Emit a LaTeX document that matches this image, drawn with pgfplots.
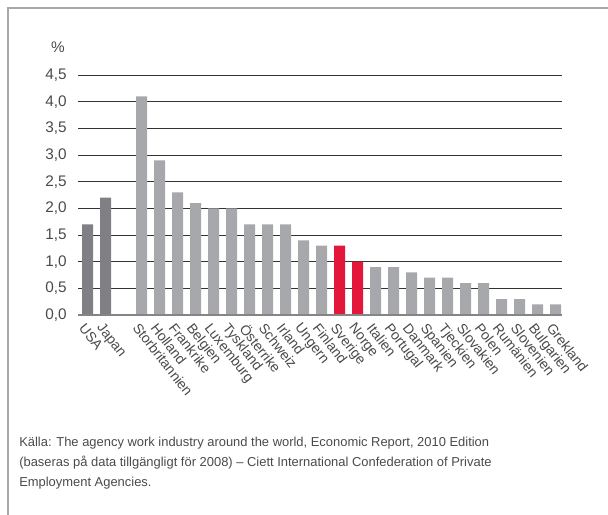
\documentclass[border=0pt]{standalone}
\usepackage{fontspec}
\setmainfont{Liberation Sans}
\usepackage{pgfplots}
\pgfplotsset{compat=1.18}
\definecolor{txt}{HTML}{4A4A4A}
\definecolor{darkbar}{HTML}{808084}
\definecolor{lightbar}{HTML}{A7A8AC}
\definecolor{redbar}{HTML}{E3173A}
\definecolor{frame}{HTML}{A8A8A8}
\begin{document}
\begin{tikzpicture}
\useasboundingbox (0,0) rectangle (456pt,386.25pt);
% frame: top and left only
\draw[frame, line width=1.1pt] (6pt,0) -- (6pt,380.25pt) -- (456pt,380.25pt);
\begin{axis}[
    at={(58.5pt,150pt)}, anchor=south west,
    scale only axis, width=363pt, height=180pt,
    xmin=-0.53, xmax=26.36, ymin=0, ymax=4.5,
    axis line style={draw=none},
    major tick length=0pt,
    ytick={0,0.5,...,4.5},
    ymajorgrids, grid style={black!80, line width=0.7pt},
    yticklabel style={font=\fontsize{11.5}{12}\selectfont, text=txt, xshift=-5pt},
    /pgf/number format/.cd, fixed, fixed zerofill, precision=1, use comma, assume math mode=true,
    /pgfplots/.cd,
    xtick={0,1,3,4,5,6,7,8,9,10,11,12,13,14,15,16,17,18,19,20,21,22,23,24,25,26},
    xticklabels={USA,Japan,Storbritannien,Holland,Frankrike,Belgien,Luxemburg,Tyskland,Österrike,Schweiz,Irland,Ungern,Finland,Sverige,Norge,Italien,Portugal,Danmark,Spanien,Tjeckien,Slovakien,Polen,Rumänien,Slovenien,Bulgarien,Grekland},
    xticklabel style={font=\fontsize{10.5}{11}\selectfont, text=txt, yshift=-5pt, xshift=-1pt, rotate=-52, anchor=north west, inner sep=0pt},
    ybar, bar width=8.25pt,
    clip=false,
]
\addplot[fill=darkbar, draw=none, bar shift=0pt] coordinates {(0,1.7) (1,2.2)};
\addplot[fill=lightbar, draw=none, bar shift=0pt] coordinates {
    (3,4.1) (4,2.9) (5,2.3) (6,2.1) (7,2.0) (8,2.0) (9,1.7) (10,1.7) (11,1.7)
    (12,1.4) (13,1.3) (16,0.9) (17,0.9) (18,0.8) (19,0.7) (20,0.7) (21,0.6)
    (22,0.6) (23,0.3) (24,0.3) (25,0.2) (26,0.2)};
\addplot[fill=redbar, draw=none, bar shift=0pt] coordinates {(14,1.3) (15,1.0)};
\draw[black!48, line width=1.8pt] (rel axis cs:0,0) -- (rel axis cs:1,0);
\end{axis}
\node[text=txt, font=\fontsize{11.5}{12}\selectfont] at (43.5pt,351pt) {\%};
\node[text=txt, anchor=base west, align=left, inner sep=0pt,
      font=\fontsize{9.7}{15}\selectfont] at (14.25pt,21pt)
  {Källa: The agency work industry around the world, Economic Report, 2010 Edition\\
   (baseras på data tillgängligt för 2008) -- Ciett International Confederation of Private\\
   Employment Agencies.};
\end{tikzpicture}
\end{document}
